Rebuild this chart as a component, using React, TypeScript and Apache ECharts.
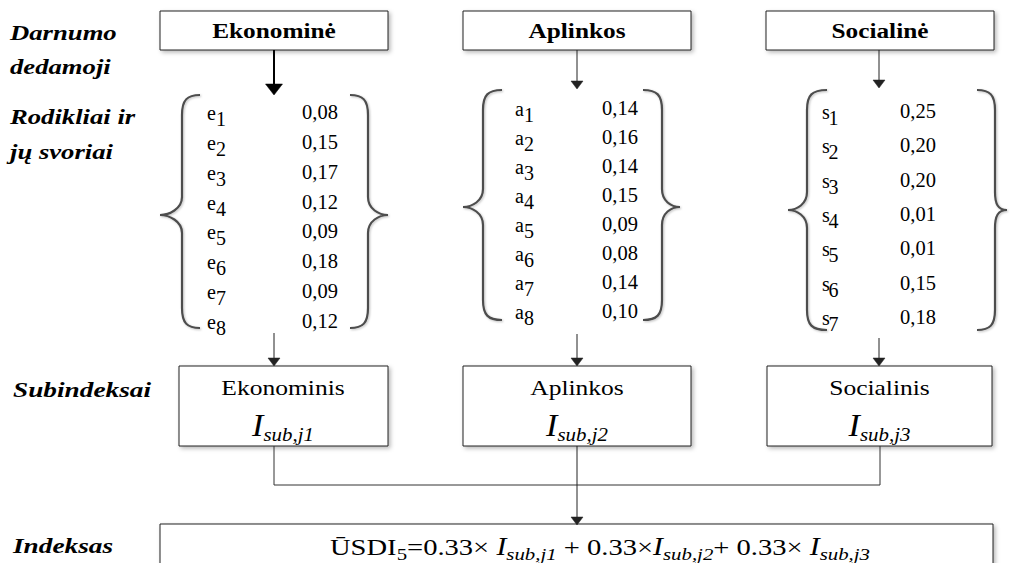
import React, { useEffect, useRef } from "react";
import * as echarts from "echarts";

// ---------- data ----------
const rowLabels = ["Darnumo", "dedamoji", "Rodikliai ir", "jų svoriai", "Subindeksai", "Indeksas"];
const pillarTitles = ["Ekonominė", "Aplinkos", "Socialinė"];
const indicatorPrefixes = ["e", "a", "s"];
const econWeights = [0.08, 0.15, 0.17, 0.12, 0.09, 0.18, 0.09, 0.12];
const envWeights = [0.14, 0.16, 0.14, 0.15, 0.09, 0.08, 0.14, 0.10];
const socWeights = [0.25, 0.2, 0.2, 0.01, 0.01, 0.15, 0.18];
const subNames = ["Ekonominis", "Aplinkos", "Socialinis"];
const subIndexNames = ["sub,j1", "sub,j2", "sub,j3"];
const formulaPrefix = "ŪSDI";
const formulaSub = "5";
const formulaCoef = ["0.33", "0.33", "0.33"];

const FONT = "Liberation Serif";

// ---------- layout ----------
const cols = [
  {
    box: [160, 388], ax: 274, thick: true, arrowTip: 95,
    brace: { l: [200, 182, 160], r: [350, 368, 388], top: 95, mid: 215, bot: 328 },
    labelX: 207, subDx: 9, valX: 302, y0: 112.2, step: 29.8, lineStart: 333,
    weights: econWeights,
  },
  {
    box: [463, 691], ax: 577, thick: false, arrowTip: 89,
    brace: { l: [502, 483, 463], r: [643, 662, 680], top: 90, mid: 207, bot: 320 },
    labelX: 515, subDx: 9, valX: 602, y0: 108.3, step: 28.9, lineStart: 334,
    weights: envWeights,
  },
  {
    box: [766, 994], ax: 879, thick: false, arrowTip: 88,
    brace: { l: [827, 807, 788], r: [977, 995, 1007], top: 90, mid: 210, bot: 330 },
    labelX: 822, subDx: 6.5, valX: 900, y0: 110.8, step: 34.4, lineStart: 338,
    weights: socWeights,
  },
];

function bracePath(xEnd: number, xLine: number, xTip: number, top: number, mid: number, bot: number) {
  const d = xEnd > xLine ? 1 : -1;
  return [
    `M ${xEnd} ${top}`,
    `C ${xLine + 5 * d} ${top} ${xLine} ${top + 5} ${xLine} ${top + 20}`,
    `L ${xLine} ${mid - 18}`,
    `C ${xLine} ${mid - 6} ${xTip + 9 * d} ${mid} ${xTip} ${mid}`,
    `C ${xTip + 9 * d} ${mid} ${xLine} ${mid + 6} ${xLine} ${mid + 18}`,
    `L ${xLine} ${bot - 20}`,
    `C ${xLine} ${bot - 5} ${xLine + 5 * d} ${bot} ${xEnd} ${bot}`,
  ].join(" ");
}

function tok(size: number, o: any = {}) {
  return {
    fontFamily: FONT,
    fontSize: size,
    fontWeight: o.bold ? "bold" : "normal",
    fontStyle: o.italic ? "italic" : "normal",
    fill: "#000",
    ...(o.lh ? { lineHeight: o.lh } : {}),
    ...(o.va ? { verticalAlign: o.va } : {}),
  };
}

function txt(x: number, y: number, text: string, o: any = {}) {
  const align = o.align ?? "left";
  const base: any = {
    type: "text",
    x,
    y,
    scaleX: o.sx ?? 1,
    z: 10,
    style: {
      text,
      fill: "#000",
      fontFamily: FONT,
      fontSize: o.size ?? 20,
      fontWeight: o.bold ? "bold" : "normal",
      fontStyle: o.italic ? "italic" : "normal",
      align,
      verticalAlign: "middle",
    },
  };
  if (o.rich) base.style.rich = o.rich;
  return base;
}

const shadow = { shadowBlur: 4, shadowOffsetX: 2, shadowOffsetY: 2, shadowColor: "rgba(0,0,0,0.28)" };

function rect(x: number, y: number, w: number, h: number, lw = 1) {
  return {
    type: "rect",
    shape: { x, y, width: w, height: h },
    z: 2,
    style: { fill: "#fff", stroke: "#222", lineWidth: lw, ...shadow },
  };
}

function line(pts: number[][], lw = 1, color = "#333") {
  return {
    type: "polyline",
    shape: { points: pts },
    z: 3,
    style: { fill: "none", stroke: color, lineWidth: lw },
  };
}

function arrowDown(x: number, y1: number, tip: number, half: number, len: number, lw = 1, color = "#222") {
  return [
    line([[x, y1], [x, tip - len + 1]], lw, color),
    {
      type: "polygon",
      shape: { points: [[x - half, tip - len], [x + half, tip - len], [x, tip]] },
      z: 4,
      style: { fill: color, stroke: color, lineWidth: 0.5 },
    },
  ];
}

function fmt(v: number) {
  return v.toFixed(2).replace(".", ",");
}

export default function App() {
  const ref = useRef<HTMLDivElement>(null);

  useEffect(() => {
    document.body.style.margin = "0";
    const el = ref.current!;
    const chart = echarts.init(el, undefined, { renderer: "svg" });
    const g: any[] = [];

    // left row labels
    const labelYs = [33, 67, 117, 152, 390, 546];
    rowLabels.forEach((t, i) => {
      g.push(txt(i >= 4 ? 13 : 10, labelYs[i], t, { size: 21, bold: true, italic: true, sx: i >= 4 ? 1.3 : 1.27 }));
    });

    cols.forEach((c, ci) => {
      const [bx0, bx1] = c.box;
      // top box
      g.push(rect(bx0, 11, bx1 - bx0, 39));
      g.push(txt((bx0 + bx1) / 2, 31, pillarTitles[ci], { size: 22, bold: true, align: "center", sx: 1.15 }));
      // top arrow
      if (c.thick) g.push(...arrowDown(c.ax, 50, c.arrowTip, 8.5, 11, 2, "#000"));
      else g.push(...arrowDown(c.ax, 50, c.arrowTip, 6, 8, 1, "#222"));

      // braces
      const b = c.brace;
      ["l", "r"].forEach((side) => {
        const [xe, xl, xt] = (b as any)[side];
        const name = `brace_${ci}_${side}`;
        echarts.graphic.registerShape(name, echarts.graphic.extendPath(bracePath(xe, xl, xt, b.top, b.mid, b.bot), {}) as any);
        g.push({
          type: name,
          x: 0,
          y: 0,
          z: 3,
          style: { fill: "none", stroke: "#4d4d4d", lineWidth: 2.2, shadowBlur: 2, shadowOffsetX: 1, shadowOffsetY: 1, shadowColor: "rgba(0,0,0,0.25)" },
        });
      });

      // indicators & weights
      c.weights.forEach((w, i) => {
        const y = c.y0 + i * c.step;
        g.push(txt(c.labelX, y + 1, indicatorPrefixes[ci], { size: 20 }));
        g.push(txt(c.labelX + c.subDx, y + 7, String(i + 1), { size: 20 }));
        g.push(txt(c.valX, y, fmt(w), { size: 20.5 }));
      });

      // arrow into subindex box
      g.push(...arrowDown(c.ax, c.lineStart, 366, 6, 8, 1, "#222"));

      // subindex box
      g.push(rect(bx0 + (ci === 0 ? 19 : ci === 2 ? 1 : 0), 366, bx1 - bx0 - (ci === 0 ? 19 : ci === 2 ? 3 : 0), 80));
      const cx = ci === 0 ? 283 : ci === 1 ? 577 : 879.5;
      g.push(txt(cx, 388, subNames[ci], { size: 22, align: "center", sx: 1.16 }));
      g.push(
        txt(cx, 426, `{I|I}{s|${subIndexNames[ci]}}`, {
          align: "center",
          sx: 1.1,
          rich: {
            I: tok(31, { italic: true, lh: 36 }),
            s: tok(19, { italic: true, lh: 19, va: "bottom" }),
          },
        })
      );
    });

    // connectors
    g.push(line([[274, 446], [274, 485], [880, 485], [880, 446]]));
    g.push(...arrowDown(577, 446, 525, 6, 8));

    // index box
    g.push(rect(160, 524, 833, 70));
    const m = (s: string) => `{m|${s}}`;
    const formula =
      m(formulaPrefix) + `{s5|${formulaSub}}` + m(`=${formulaCoef[0]}× `) + `{I|I}{s|${subIndexNames[0]}}` +
      m(` + ${formulaCoef[1]}×`) + `{I|I}{s|${subIndexNames[1]}}` +
      m(`+ ${formulaCoef[2]}× `) + `{I|I}{s|${subIndexNames[2]}}`;
    g.push(
      txt(330, 547, formula, {
        sx: 1.19,
        rich: {
          m: tok(24, { lh: 32 }),
          I: tok(25, { italic: true, lh: 32 }),
          s: tok(17.5, { italic: true, lh: 17, va: "bottom" }),
          s5: tok(17.5, { lh: 17, va: "bottom" }),
        },
      })
    );

    chart.setOption({
      animation: false,
      backgroundColor: "#fff",
      graphic: { elements: g },
    });

    return () => chart.dispose();
  }, []);

  return <div ref={ref} style={{ width: 1010, height: 563 }} />;
}
